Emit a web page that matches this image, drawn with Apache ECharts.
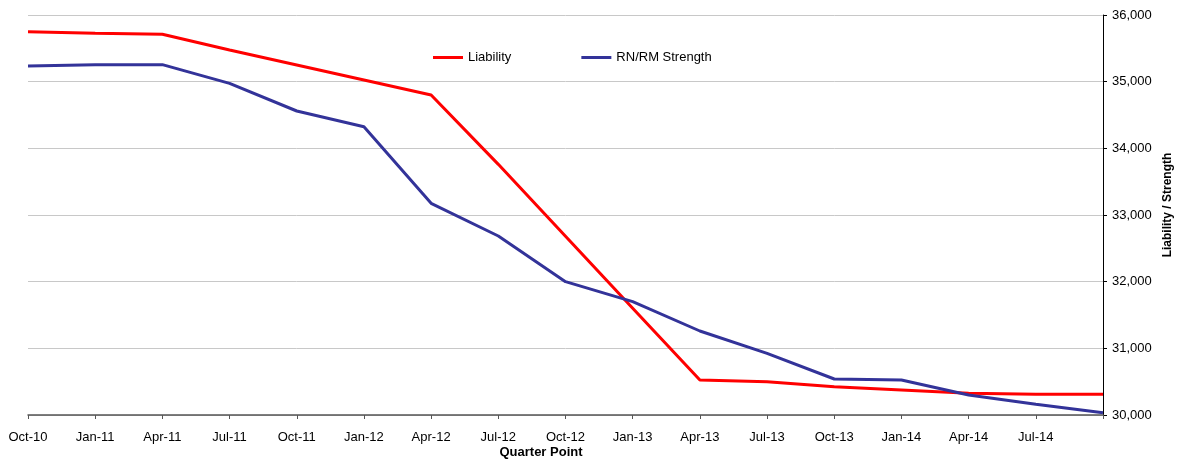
<!DOCTYPE html>
<html>
<head>
    <meta charset="utf-8">
    <script src="https://cdn.jsdelivr.net/npm/echarts@6/dist/echarts.min.js"></script>
    <style>
        body{
            margin:0;
            padding:0;
            background:#fff;
        }
    </style>
</head>
<body>
<div id="main" style="width:1187px;height:460px;"></div>
<script type="text/javascript">
// quarter points (last one has no printed label)
let quarters = ['Oct-10','Jan-11','Apr-11','Jul-11','Oct-11','Jan-12','Apr-12','Jul-12','Oct-12',
  'Jan-13','Apr-13','Jul-13','Oct-13','Jan-14','Apr-14','Jul-14','Oct-14'];
let liability = [35750,35725,35710,35475,35250,35025,34800,33760,32680,
  31600,30525,30500,30425,30375,30325,30310,30310];
let strength = [35235,35255,35255,34975,34560,34325,33175,32685,32000,
  31700,31260,30925,30540,30525,30300,30160,30035];
let yTicks = {min:30000, max:36000, step:1000};

var myChart = echarts.init(document.getElementById('main'));
var font = 'Liberation Sans, Arial, sans-serif';

option = {
  animation:false,
  textStyle:{fontFamily:font},
  grid:{
    left:28,
    right:84,
    top:15,
    bottom:45
  },
  legend:{
    left:428,
    top:46,
    itemWidth:30,
    itemHeight:3,
    itemGap:70,
    icon:'rect',
    textStyle:{fontSize:13, color:'#000', fontFamily:font},
    data:['Liability','RN/RM Strength']
  },
  xAxis:{
    type:'category',
    boundaryGap:false,
    data:quarters,
    axisLine:{lineStyle:{color:'#555', width:1.5}},
    axisTick:{show:true, length:4, interval:0, lineStyle:{color:'#555'}},
    axisLabel:{
      interval:0,
      margin:16,
      fontSize:13,
      color:'#000',
      formatter:function(v, i){ return i === quarters.length - 1 ? '' : v; }
    },
    splitLine:{show:false}
  },
  yAxis:{
    type:'value',
    position:'right',
    min:yTicks.min,
    max:yTicks.max,
    interval:yTicks.step,
    axisLine:{show:true, lineStyle:{color:'#000', width:1}},
    axisTick:{show:true, length:4, inside:false, lineStyle:{color:'#000'}},
    axisLabel:{
      fontSize:13,
      color:'#000',
      margin:9,
      formatter:function(v){ return v.toLocaleString('en-US'); }
    },
    splitLine:{lineStyle:{color:'#c8c8c8', width:1}}
  },
  graphic:[{
    type:'text',
    x:541,
    y:452,
    style:{text:'Quarter Point', font:'bold 13px ' + font, fill:'#000', align:'center', verticalAlign:'middle'}
  },{
    type:'text',
    x:1168,
    y:205,
    rotation:Math.PI/2,
    style:{text:'Liability / Strength', font:'bold 12px ' + font, fill:'#000', align:'center', verticalAlign:'middle'}
  }],
  series:[
    {
      name:'Liability',
      type:'line',
      data:liability,
      symbol:'none',
      lineStyle:{color:'#ff0000', width:3},
      itemStyle:{color:'#ff0000'}
    },
    {
      name:'RN/RM Strength',
      type:'line',
      data:strength,
      symbol:'none',
      lineStyle:{color:'#333399', width:3},
      itemStyle:{color:'#333399'}
    }
  ]
};
myChart.setOption(option);
</script>
</body>
</html>
